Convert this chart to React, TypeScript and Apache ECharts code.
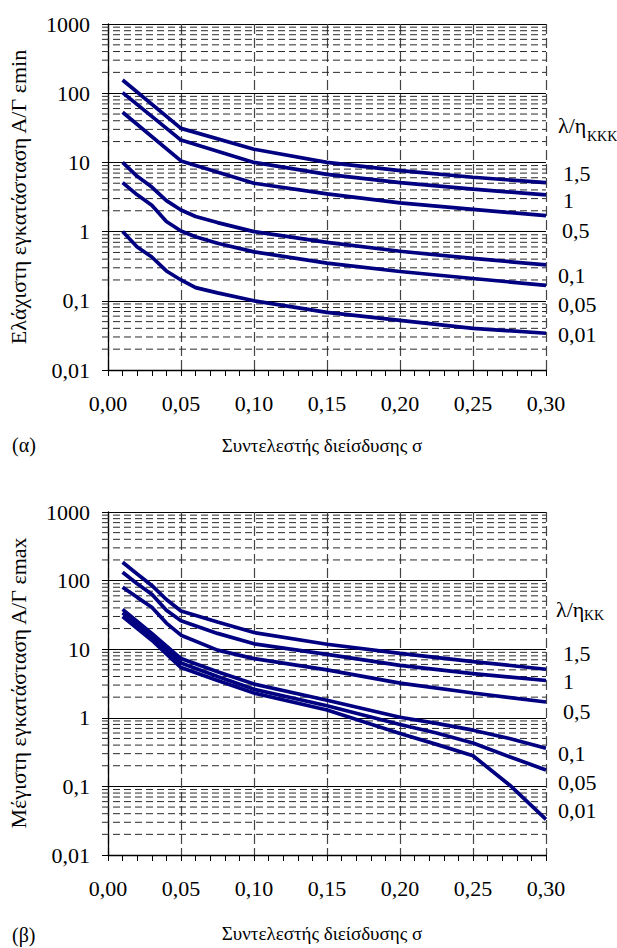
import React, { useEffect, useRef } from "react";
import * as echarts from "echarts";

const FONT = "Liberation Serif, Times New Roman, serif";
const LINE_COLOR = "#000080";

// ---- Chart (α): minimum installation ----
const sigmaMinUpper = [0.01, 0.05, 0.1, 0.15, 0.2, 0.25, 0.3];
const min_15 = [155, 31, 15.5, 10, 7.6, 6.1, 5.1];
const min_1 = [102, 21, 10, 6.7, 5.1, 4.1, 3.4];
const min_05 = [53, 10.5, 5.0, 3.5, 2.6, 2.1, 1.7];

const sigmaMinLower = [0.01, 0.02, 0.03, 0.04, 0.05, 0.06, 0.075, 0.1, 0.15, 0.2, 0.25, 0.3];
const min_01 = [10, 6.3, 4.4, 2.8, 2.05, 1.65, 1.35, 1.0, 0.7, 0.52, 0.41, 0.33];
const min_005 = [5.1, 3.4, 2.4, 1.4, 1.02, 0.84, 0.68, 0.51, 0.35, 0.265, 0.21, 0.167];
const min_001 = [1.0, 0.6, 0.43, 0.27, 0.2, 0.155, 0.13, 0.1, 0.068, 0.052, 0.04, 0.034];

// ---- Chart (β): maximum installation ----
const sigmaMaxUpper = [0.01, 0.02, 0.03, 0.04, 0.05, 0.075, 0.1, 0.15, 0.2, 0.25, 0.3];
const max_15 = [185, 125, 85, 53, 36, 25, 17.5, 11.8, 8.7, 6.6, 5.1];
const max_1 = [132, 90, 63, 37, 26, 17, 12, 8.4, 5.8, 4.4, 3.5];
const max_05 = [80, 57, 41, 24, 16, 9.7, 7.3, 5.0, 3.2, 2.3, 1.7];

const sigmaMaxLower = [0.01, 0.03, 0.05, 0.075, 0.1, 0.15, 0.2, 0.225, 0.25, 0.275, 0.3];
const max_01 = [38, 17, 7.3, 4.7, 3.1, 1.8, 1.02, 0.83, 0.66, 0.5, 0.36];
const max_005 = [34, 15, 6.3, 4.0, 2.6, 1.5, 0.8, 0.6, 0.43, 0.27, 0.174];
const max_001 = [30, 13.5, 5.4, 3.5, 2.3, 1.3, 0.59, 0.41, 0.28, 0.105, 0.033];

const curveLabels = ["1,5", "1", "0,5", "0,1", "0,05", "0,01"];

// axis structure
const X_MIN = 0;
const X_MAX = 0.3;
const X_INTERVAL = 0.05;
const Y_MIN = 0.01;
const Y_MAX = 1000;
const decades = [0.01, 0.1, 1, 10, 100];
const minorMultipliers = [2, 3, 4, 5, 6, 7, 8, 9];
const minorValues: number[] = [];
decades.forEach((d) => minorMultipliers.forEach((m) => minorValues.push(+(d * m).toPrecision(3))));

const fmtComma = (v: number) => {
  if (v >= 1) return String(Math.round(v));
  return (+v.toPrecision(2)).toString().replace(".", ",");
};

function makeSeries(idx: number, xs: number[], ys: number[], name: string) {
  return {
    type: "line",
    name,
    xAxisIndex: idx,
    yAxisIndex: idx,
    data: xs.map((x, i) => [x, ys[i]]),
    symbol: "none",
    showSymbol: false,
    lineStyle: { color: LINE_COLOR, width: 3.7 },
    z: 5,
    silent: true,
  };
}

function minorGridSeries(idx: number) {
  return {
    type: "custom",
    xAxisIndex: idx,
    yAxisIndex: idx,
    silent: true,
    clip: false,
    z: 1,
    data: minorValues.map((v) => [X_MIN, v]),
    renderItem: (_params: any, api: any) => {
      const v = api.value(1);
      const a = api.coord([X_MIN, v]);
      const b = api.coord([X_MAX, v]);
      return {
        type: "line",
        shape: { x1: a[0] - 6, y1: a[1], x2: b[0], y2: b[1] },
        style: { stroke: "#2a2a2a", lineWidth: 1, lineDash: [7, 4], fill: null },
      };
    },
  };
}

function xAxis(idx: number) {
  return {
    type: "value",
    gridIndex: idx,
    min: X_MIN,
    max: X_MAX,
    interval: X_INTERVAL,
    axisLine: { show: true, onZero: false, lineStyle: { color: "#000", width: 1.3 } },
    axisTick: { show: true, inside: false, length: 6, lineStyle: { color: "#000" } },
    minorTick: { show: true, splitNumber: 5, length: 6, lineStyle: { color: "#000" } },
    axisLabel: {
      fontFamily: FONT,
      fontSize: 22,
      color: "#000",
      margin: 22,
      formatter: (v: number) => v.toFixed(2).replace(".", ","),
    },
    splitLine: { show: true, lineStyle: { color: "#444", type: [10, 4], width: 1.2 } },
  };
}

function yAxis(idx: number) {
  return {
    type: "log",
    gridIndex: idx,
    logBase: 10,
    min: Y_MIN,
    max: Y_MAX,
    axisLine: { show: true, onZero: false, lineStyle: { color: "#000", width: 1.3 } },
    axisTick: { show: true, inside: false, length: 6, lineStyle: { color: "#000" } },
    axisLabel: {
      fontFamily: FONT,
      fontSize: 22,
      color: "#000",
      margin: 18,
      formatter: fmtComma,
    },
    splitLine: { show: true, lineStyle: { color: "#000", width: 1 } },
  };
}

function txt(x: number, y: number, text: string, opts: any = {}) {
  return {
    type: "text",
    x,
    y,
    silent: true,
    rotation: opts.rotation || 0,
    style: {
      text,
      fontFamily: FONT,
      fontSize: opts.fontSize || 22,
      fill: "#000",
      textAlign: opts.align || "left",
      textVerticalAlign: "middle",
      verticalAlign: "middle",
      align: opts.align || "left",
    },
  };
}

const rightLabelsA = [
  [563, 173],
  [563, 200],
  [562, 230],
  [558, 275],
  [558, 304],
  [558, 334],
];
const rightLabelsB = [
  [563, 653],
  [563, 681],
  [563, 711],
  [558, 753],
  [558, 782],
  [558, 810],
];

export default function App() {
  const ref = useRef<HTMLDivElement>(null);
  useEffect(() => {
    if (!ref.current) return;
    const chart = echarts.init(ref.current, undefined, { renderer: "svg" });
    const graphics: any[] = [
      txt(18, 197, "Ελάχιστη εγκατάσταση Α/Γ εmin", { rotation: Math.PI / 2, align: "center" }),
      txt(18, 683, "Μέγιστη εγκατάσταση Α/Γ εmax", { rotation: Math.PI / 2, align: "center" }),
      txt(322, 445, "Συντελεστής διείσδυσης σ", { align: "center", fontSize: 19 }),
      txt(322, 933, "Συντελεστής διείσδυσης σ", { align: "center", fontSize: 19 }),
      txt(12, 445, "(α)", { fontSize: 20 }),
      txt(12, 935, "(β)", { fontSize: 20 }),
      txt(558, 125, "λ/η"),
      txt(587, 136, "ΚΚΚ", { fontSize: 14 }),
      txt(556, 609, "λ/η"),
      txt(584, 615, "ΚΚ", { fontSize: 14 }),
    ];
    curveLabels.forEach((l, i) => {
      graphics.push(txt(rightLabelsA[i][0], rightLabelsA[i][1], l));
      graphics.push(txt(rightLabelsB[i][0], rightLabelsB[i][1], l));
    });

    chart.setOption({
      animation: false,
      backgroundColor: "#fff",
      grid: [
        { left: 108, top: 24, width: 438, height: 346, show: false },
        { left: 108, top: 512, width: 438, height: 343, show: false },
      ],
      xAxis: [xAxis(0), xAxis(1)],
      yAxis: [yAxis(0), yAxis(1)],
      series: [
        minorGridSeries(0),
        minorGridSeries(1),
        makeSeries(0, sigmaMinUpper, min_15, "1,5"),
        makeSeries(0, sigmaMinUpper, min_1, "1"),
        makeSeries(0, sigmaMinUpper, min_05, "0,5"),
        makeSeries(0, sigmaMinLower, min_01, "0,1"),
        makeSeries(0, sigmaMinLower, min_005, "0,05"),
        makeSeries(0, sigmaMinLower, min_001, "0,01"),
        makeSeries(1, sigmaMaxUpper, max_15, "1,5"),
        makeSeries(1, sigmaMaxUpper, max_1, "1"),
        makeSeries(1, sigmaMaxUpper, max_05, "0,5"),
        makeSeries(1, sigmaMaxLower, max_01, "0,1"),
        makeSeries(1, sigmaMaxLower, max_005, "0,05"),
        makeSeries(1, sigmaMaxLower, max_001, "0,01"),
      ],
      graphic: graphics,
    });
    return () => chart.dispose();
  }, []);
  return (
    <div
      ref={ref}
      style={{ position: "fixed", left: 0, top: 0, width: 617, height: 948, background: "#fff" }}
    />
  );
}
